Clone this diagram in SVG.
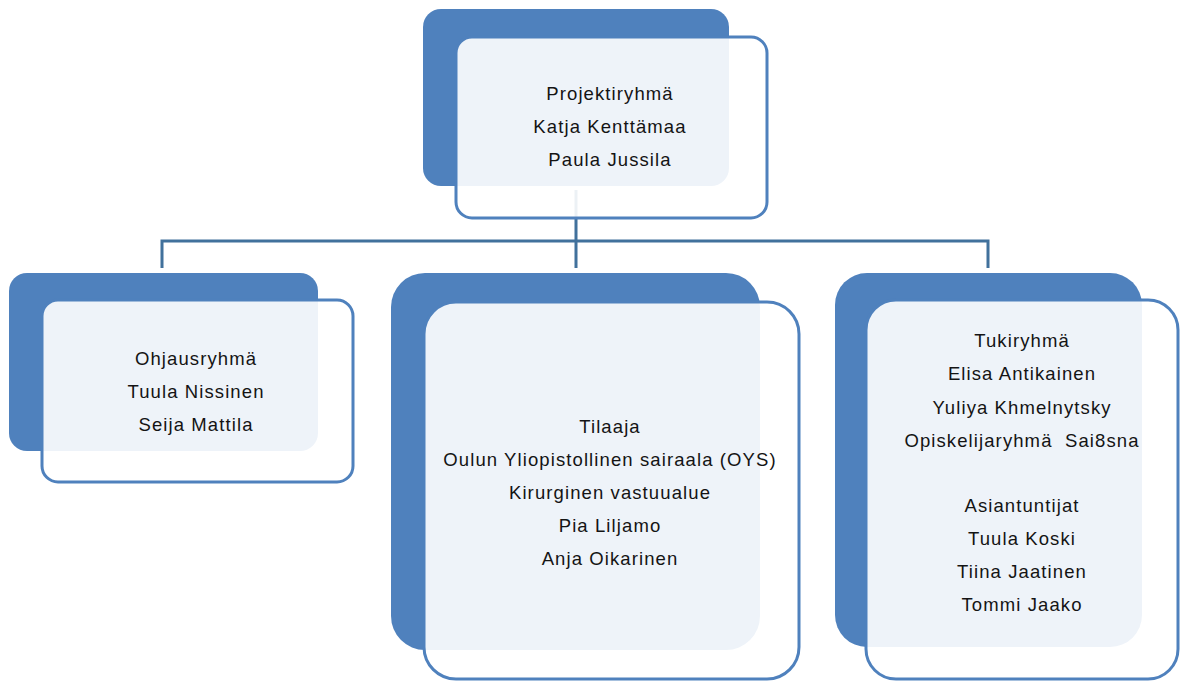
<svg xmlns="http://www.w3.org/2000/svg" width="1188" height="681" viewBox="0 0 1188 681">
<style>
.back{fill:#4f81bd;}
.front{fill:#ffffff;fill-opacity:0.9;stroke:#4f81bd;stroke-width:3;}
.conn{fill:none;stroke:#41719c;stroke-width:3;}
text{font-family:"Liberation Sans",Arial,sans-serif;font-size:18.5px;fill:#141414;text-anchor:middle;letter-spacing:1.1px;}
</style>
<rect width="1188" height="681" fill="#ffffff"/>
<g id="connectors">
<path class="conn" d="M576 190 V241 M162 268 V241 H988 V268 M576 241 V268"/>
</g>
<g id="node-projektiryhma">
<rect class="back" x="423" y="9" width="306" height="177" rx="18"/>
<rect class="front" x="456" y="37" width="311" height="181" rx="16"/>
<text x="610" y="100">Projektiryhmä</text>
<text x="610" y="133">Katja Kenttämaa</text>
<text x="610" y="166">Paula Jussila</text>
</g>
<g id="node-ohjausryhma">
<rect class="back" x="9" y="273" width="309" height="178" rx="18"/>
<rect class="front" x="42" y="300" width="311" height="182" rx="16"/>
<text x="196" y="365">Ohjausryhmä</text>
<text x="196" y="398">Tuula Nissinen</text>
<text x="196" y="431">Seija Mattila</text>
</g>
<g id="node-tilaaja">
<rect class="back" x="391" y="273" width="369" height="377" rx="34"/>
<rect class="front" x="424" y="302" width="375" height="377" rx="32"/>
<text x="610" y="433">Tilaaja</text>
<text x="610" y="466">Oulun Yliopistollinen sairaala (OYS)</text>
<text x="610" y="499">Kirurginen vastuualue</text>
<text x="610" y="532">Pia Liljamo</text>
<text x="610" y="565">Anja Oikarinen</text>
</g>
<g id="node-tukiryhma">
<rect class="back" x="835" y="273" width="307" height="374" rx="32"/>
<rect class="front" x="866" y="300" width="312" height="379" rx="30"/>
<text x="1022" y="347">Tukiryhmä</text>
<text x="1022" y="380">Elisa Antikainen</text>
<text x="1022" y="414">Yuliya Khmelnytsky</text>
<text x="1022" y="447" xml:space="preserve">Opiskelijaryhmä  Sai8sna</text>
<text x="1022" y="512">Asiantuntijat</text>
<text x="1022" y="545">Tuula Koski</text>
<text x="1022" y="578">Tiina Jaatinen</text>
<text x="1022" y="611">Tommi Jaako</text>
</g>
</svg>
